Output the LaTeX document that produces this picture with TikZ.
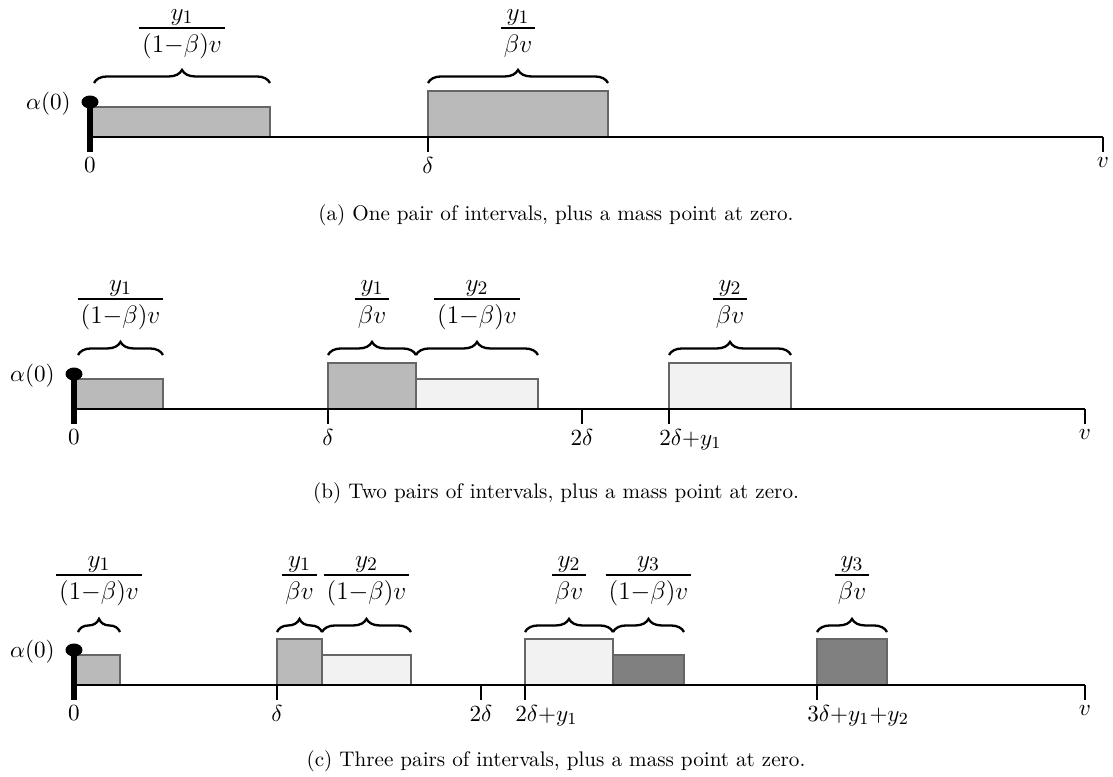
\documentclass[tikz,border=0pt]{standalone}
\usetikzlibrary{decorations.pathreplacing}
\definecolor{midgray}{HTML}{BABABA}
\definecolor{paleg}{HTML}{F2F2F2}
\definecolor{deepg}{HTML}{808080}
% fraction label: name, x, bar y, numerator, denominator
\newcommand{\fraclab}[5]{%
  \coordinate (#1b) at (#2,#3);
  \node[fracpart,anchor=base] (#1n) at (#2,#3-8) {$#4$};
  \node[fracpart,anchor=base,inner xsep=1.2pt] (#1d) at (#2,#3+24) {$#5$};
  \draw[fracbar] (#1d.west |- #1b) -- (#1d.east |- #1b);}
\begin{document}
\begin{tikzpicture}[x=0.4735pt,y=-0.4735pt,
  axisline/.style={line width=1.3pt},
  tickline/.style={line width=1.3pt},
  zeroline/.style={line width=2.4pt},
  interval/.style={draw=black!60,line width=0.5pt},
  midbox/.style={interval,fill=midgray},
  palebox/.style={interval,fill=paleg},
  deepbox/.style={interval,fill=deepg},
  brc/.style={decorate,decoration={brace,amplitude=6.2pt},line width=1.1pt},
  ticklab/.style={anchor=north,inner sep=0pt,font=\fontsize{10.8}{13}\selectfont},
  wticklab/.style={anchor=north west,inner sep=0pt,font=\fontsize{10.8}{13}\selectfont},
  fracpart/.style={inner ysep=0pt,inner xsep=0pt,font=\fontsize{12.8}{15}\selectfont},
  fracbar/.style={line width=0.5pt},
  caplab/.style={inner sep=0pt,font=\fontsize{10}{12}\selectfont},
  masslab/.style={anchor=east,inner sep=0pt,font=\fontsize{10.8}{13}\selectfont}]
\useasboundingbox (0,0) rectangle (1113,776);

% ---------------- panel (a) ----------------
\draw[midbox] (90,107) rectangle (270,137);
\draw[midbox] (428,91) rectangle (608,137);
\coordinate (a0) at (90,137);
\coordinate (av) at (1103,137);
\coordinate (ad) at (428,137);
\draw[axisline] (a0) -- (av);
\draw[tickline] (ad) -- ++(0,15);
\draw[tickline] (av) -- ++(0,15);
\coordinate (adot) at (90,102);
\draw[zeroline] (adot) -- (90,152);
\fill (adot) ellipse [x radius=8.5, y radius=6.5];
\node[masslab] (aalpha) at (71,104) {$\alpha(0)$};
\node[ticklab] (al0) at (90,157) {$0$};
\node[ticklab] (ald) at (428,157) {$\delta$};
\node[ticklab] (alv) at (1103,157) {$v$};
\draw[brc] (94,83) -- (270,83);
\draw[brc] (428,83) -- (608,83);
\fraclab{af1}{182}{28}{y_1}{(1{-}\beta)v}
\fraclab{af2}{518}{28}{y_1}{\beta v}
\node[caplab] (acap) at (556,215) {(a) One pair of intervals, plus a mass point at zero.};

% ---------------- panel (b) ----------------
\draw[midbox] (74,379) rectangle (163,409);
\draw[midbox] (328,363) rectangle (416,409);
\draw[palebox] (416,379) rectangle (538,409);
\draw[palebox] (669,363) rectangle (791,409);
\coordinate (b0) at (74,409);
\coordinate (bv) at (1085,409);
\coordinate (bd) at (328,409);
\coordinate (b2d) at (582,409);
\coordinate (b2dy) at (669,409);
\draw[axisline] (b0) -- (bv);
\foreach \c in {bd,b2d,b2dy,bv} \draw[tickline] (\c) -- ++(0,15);
\coordinate (bdot) at (74,374);
\draw[zeroline] (bdot) -- (74,424);
\fill (bdot) ellipse [x radius=8.5, y radius=6.5];
\node[masslab] (balpha) at (55,376) {$\alpha(0)$};
\node[ticklab] (bl0) at (74,429) {$0$};
\node[ticklab] (bld) at (328,429) {$\delta$};
\node[ticklab] (bl2d) at (582,429) {$2\delta$};
\node[wticklab] (bl2dy) at (659,429) {$2\delta{+}y_1$};
\node[ticklab] (blv) at (1085,429) {$v$};
\draw[brc] (78,355) -- (163,355);
\draw[brc] (328,355) -- (416,355);
\draw[brc] (416,355) -- (538,355);
\draw[brc] (669,355) -- (791,355);
\fraclab{bf1}{120.5}{299}{y_1}{(1{-}\beta)v}
\fraclab{bf2}{372}{299}{y_1}{\beta v}
\fraclab{bf3}{477}{299}{y_2}{(1{-}\beta)v}
\fraclab{bf4}{730}{299}{y_2}{\beta v}
\node[caplab] (bcap) at (556,493) {(b) Two pairs of intervals, plus a mass point at zero.};

% ---------------- panel (c) ----------------
\draw[midbox] (74,655) rectangle (120,685);
\draw[midbox] (277,639) rectangle (322,685);
\draw[palebox] (322,655) rectangle (411,685);
\draw[palebox] (525,639) rectangle (613,685);
\draw[deepbox] (613,655) rectangle (684,685);
\draw[deepbox] (817,639) rectangle (887,685);
\coordinate (c0) at (74,685);
\coordinate (cv) at (1085,685);
\coordinate (cd) at (277,685);
\coordinate (c2d) at (481,685);
\coordinate (c2dy) at (525,685);
\coordinate (c3d) at (817,685);
\draw[axisline] (c0) -- (cv);
\foreach \c in {cd,c2d,c2dy,c3d,cv} \draw[tickline] (\c) -- ++(0,15);
\coordinate (cdot) at (74,650);
\draw[zeroline] (cdot) -- (74,700);
\fill (cdot) ellipse [x radius=8.5, y radius=6.5];
\node[masslab] (calpha) at (55,652) {$\alpha(0)$};
\node[ticklab] (cl0) at (74,705) {$0$};
\node[ticklab] (cld) at (277,705) {$\delta$};
\node[ticklab] (cl2d) at (481,705) {$2\delta$};
\node[wticklab] (cl2dy) at (515,705) {$2\delta{+}y_1$};
\node[wticklab] (cl3d) at (807,705) {$3\delta{+}y_1{+}y_2$};
\node[ticklab] (clv) at (1085,705) {$v$};
\draw[brc] (78,632) -- (120,632);
\draw[brc] (277,632) -- (322,632);
\draw[brc] (322,632) -- (411,632);
\draw[brc] (525,632) -- (613,632);
\draw[brc] (613,632) -- (684,632);
\draw[brc] (817,632) -- (887,632);
\fraclab{cf1}{99}{575}{y_1}{(1{-}\beta)v}
\fraclab{cf2}{299.5}{575}{y_1}{\beta v}
\fraclab{cf3}{366.5}{575}{y_2}{(1{-}\beta)v}
\fraclab{cf4}{569}{575}{y_2}{\beta v}
\fraclab{cf5}{648.5}{575}{y_3}{(1{-}\beta)v}
\fraclab{cf6}{852}{575}{y_3}{\beta v}
\node[caplab] (ccap) at (556,761) {(c) Three pairs of intervals, plus a mass point at zero.};
\end{tikzpicture}
\end{document}
